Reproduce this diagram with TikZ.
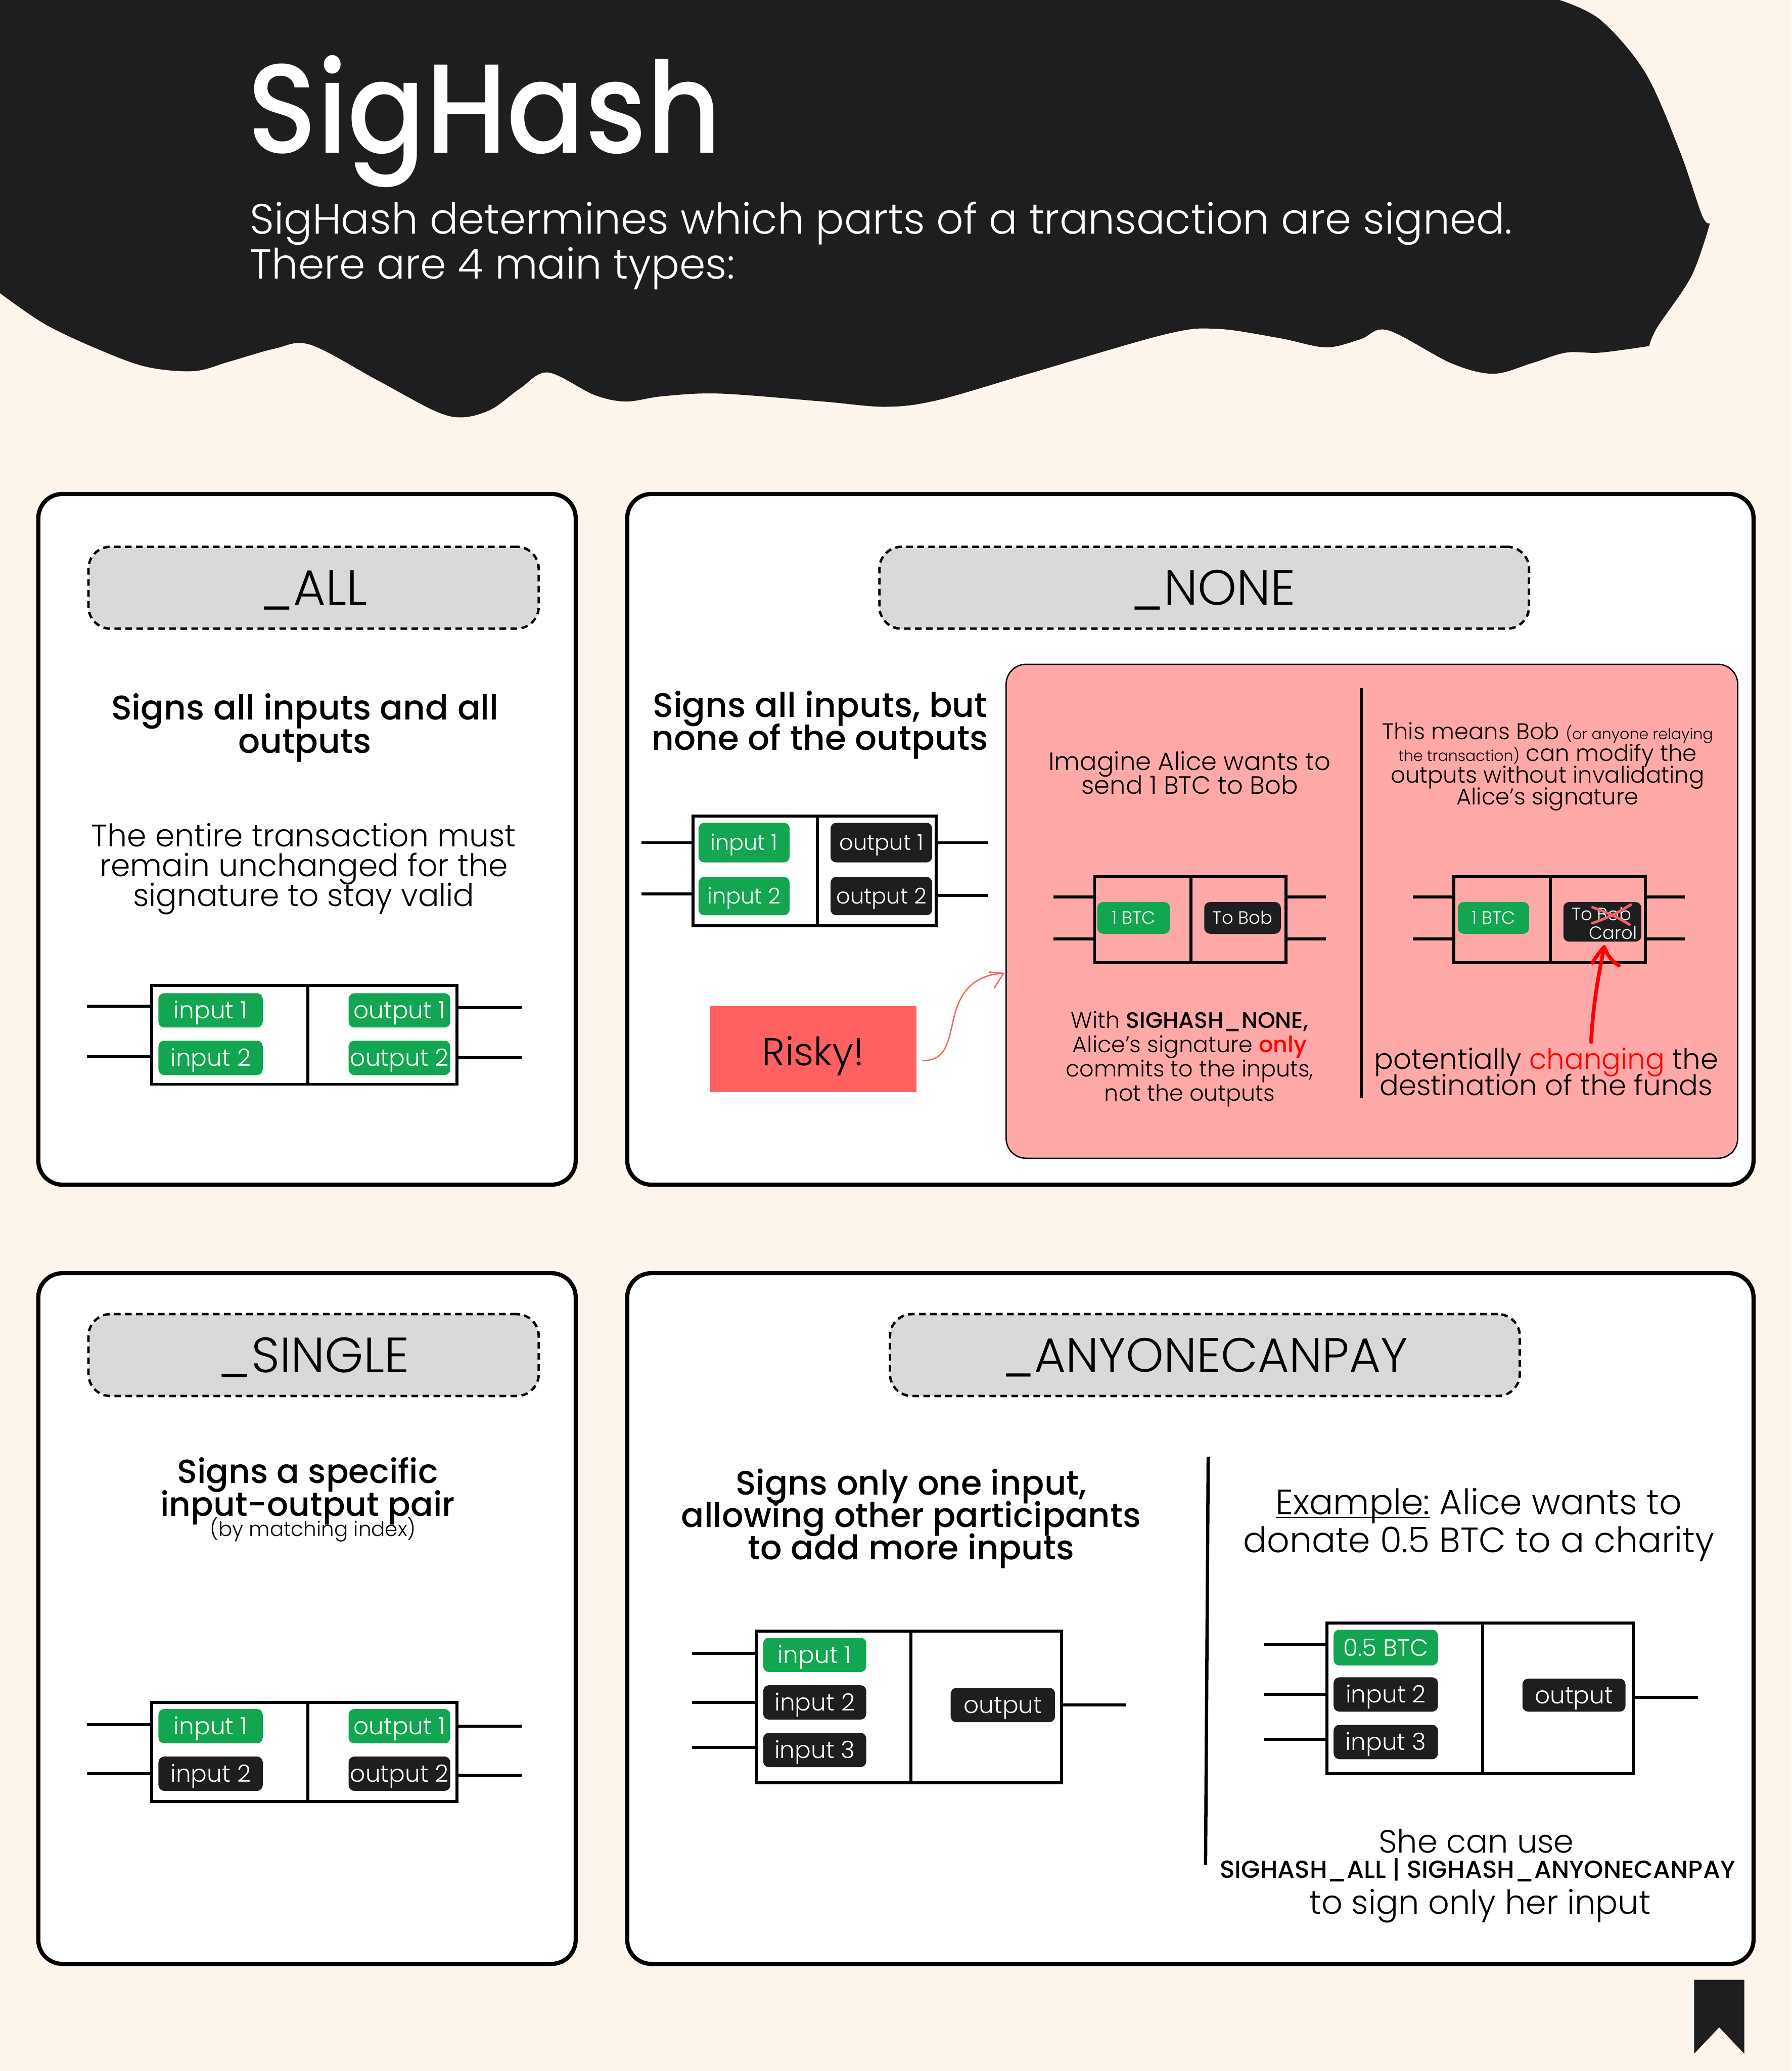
\documentclass[tikz,border=0pt]{standalone}
\usepackage{fontspec}
\setmainfont{Poppins}[UprightFont=* Light,BoldFont=* Medium]
\setlength\lineskiplimit{-100pt}
\newcommand\fsz[2]{\fontsize{\fpeval{#1*0.6}pt}{\fpeval{#2*0.6}pt}\selectfont\lineskiplimit=-100pt\relax}
\definecolor{bgc}{HTML}{FDF5EB}
\definecolor{inkc}{HTML}{1E1E20}
\definecolor{greenc}{HTML}{12A650}
\definecolor{pinkc}{HTML}{FFA8A8}
\definecolor{riskc}{HTML}{FF6060}
\definecolor{pillc}{HTML}{D9D9D9}
\definecolor{crossc}{HTML}{EE6468}
\tikzset{
  x=0.6pt,y=-0.6pt,
  panel/.style={draw=black,fill=white,line width=1.9pt,rounded corners=11pt,inner sep=0pt},
  pill/.style={draw=black,fill=pillc,line width=1.1pt,dash pattern=on 3pt off 2pt,rounded corners=10pt,inner sep=0pt,font=\fsz{37.5}{37.5},text=black},
  txbox/.style={draw=black,line width=1.35pt,inner sep=0pt},
  wire/.style={draw=black,line width=1.35pt},
  chipbase/.style={rounded corners=2.6pt,inner sep=0pt,text=white},
  ichip/.style={chipbase,fill=greenc},
  ochip/.style={chipbase,fill=inkc},
  txt/.style={inner sep=0pt,align=center,text=black},
  chipfont/.style={font=\fsz{18}{18}},
  midchip/.style={font=\fsz{16.5}{16.5}},
  smallchip/.style={font=\fsz{13.5}{13.5}},
}
% #1 name, #2-#5 x1 y1 x2 y2, #6 style, #7 text
\newcommand\bx[7]{\node[#6,minimum width={(#4-#2)*0.6pt},minimum height={(#5-#3)*0.6pt}] (#1) at ({(#2+#4)/2},{(#3+#5)/2}) {\raisebox{-0.35em}[0pt][0pt]{#7}};}
% wires: #1 name, #2 x, #3 y, #4 box anchor node.side
\newcommand\wire[4]{\coordinate (#1) at (#2,#3); \draw[wire] (#1) -- (#1 -| #4);}
\begin{document}
\begin{tikzpicture}
\useasboundingbox (0,0) rectangle (1356.8,1568.1);
\fill[bgc] (0,0) rectangle (1356.8,1568.1);
% header blob
\fill[inkc] (0,222) -- (0,0) -- (1181,0)
  -- plot[smooth,tension=0.55] coordinates {(1181,0) (1212,15) (1246,55) (1272,114) (1289,163) (1295,169)}
  -- plot[smooth,tension=0.55] coordinates {(1295,169) (1281,209) (1255,248) (1249,262)}
  -- plot[smooth,tension=0.55] coordinates {(1249,262) (1212,267) (1186,267) (1160,275) (1131,283) (1099,275) (1051,250) (1030,257) (1004,263) (969,256) (922,249) (883,253) (779,283) (710,303) (671,308) (623,304) (545,298) (502,300) (474,304) (450,299) (415,282) (394,294) (372,310) (350,316) (329,311) (286,288) (235,261) (208,264) (173,274) (147,281) (112,278) (78,266) (35,246) (0,222)}
  -- cycle;
\node[txt,anchor=base west,text=white,font=\fsz{96}{96}\bfseries] (title) at (187,116) {\scalebox{0.91}[1]{SigHash}};
\node[txt,anchor=base west,text=white,align=left,font=\fsz{32.05}{34}] (sub) at (189,177) {SigHash determines which parts of a transaction are signed.};
\node[txt,anchor=base west,text=white,align=left,font=\fsz{31.7}{34}] (sub2) at (189,211) {There are 4 main types:};

% panels
\bx{pA}{29}{374}{436}{897}{panel}{}
\bx{pN}{475}{374}{1328}{897}{panel}{}
\bx{pS}{29}{964}{436}{1487}{panel}{}
\bx{pY}{475}{964}{1328}{1487}{panel}{}
\bx{hA}{67}{414}{408}{476}{pill}{\_ALL}
\bx{hN}{666}{414}{1158}{476}{pill}{\hspace{8pt}\_NONE}
\bx{hS}{67}{995}{408}{1057}{pill}{\_SINGLE}
\bx{hY}{674}{995}{1151}{1057}{pill,font=\fsz{36.4}{36.4}}{\_ANYONECANPAY}

% ALL
\node[txt,font=\fsz{25.9}{25}\bfseries] (tA1) at (231,551) {Signs all inputs and all\\outputs};
\node[txt,font=\fsz{23.6}{22.5}] (tA2) at (230,658) {The entire transaction must\\remain unchanged for the\\signature to stay valid};
\bx{bA}{115}{746}{346}{821}{txbox}{}
\draw[wire] (233,746) -- (233,821);
\wire{wA1}{66}{762}{bA.west}
\wire{wA2}{66}{800}{bA.west}
\wire{wA3}{395}{763}{bA.east}
\wire{wA4}{395}{801}{bA.east}
\bx{cA1}{120}{752}{199}{778}{ichip,chipfont}{input 1}
\bx{cA2}{120}{788}{199}{814}{ichip,chipfont}{input 2}
\bx{cA3}{264}{752}{341}{778}{ichip,chipfont}{output 1}
\bx{cA4}{264}{788}{341}{814}{ichip,chipfont}{output 2}

% NONE
\node[txt,font=\fsz{25.9}{25}\bfseries] (tN1) at (621,549) {Signs all inputs, but\\none of the outputs};
\bx{bN}{525}{618}{709}{701}{txbox}{}
\draw[wire] (619,618) -- (619,701);
\wire{wN1}{486}{638}{bN.west}
\wire{wN2}{486}{677}{bN.west}
\wire{wN3}{748}{638}{bN.east}
\wire{wN4}{748}{678}{bN.east}
\bx{cN1}{529}{623}{598}{653}{ichip,midchip}{input 1}
\bx{cN2}{529}{664}{598}{693}{ichip,midchip}{input 2}
\bx{cN3}{629}{623}{706}{653}{ochip,midchip}{output 1}
\bx{cN4}{629}{664}{706}{693}{ochip,midchip}{output 2}
\bx{risk}{538}{762}{694}{827}{fill=riskc,inner sep=0pt,text=black,font=\fsz{29.5}{29.5}}{\raisebox{-1.2pt}{Risky!}}
\bx{pink}{762}{503}{1316}{877}{draw=black,fill=pinkc,line width=0.6pt,rounded corners=9pt,inner sep=0pt}{}
\coordinate (rA) at (699,803);
\coordinate (rB) at (760,737);
\draw[riskc,line width=0.6pt,line cap=round] (rA) .. controls (716,803) and (718,790) .. (722,772) .. controls (727,750) and (738,738) .. (rB);
\draw[riskc,line width=0.6pt,line cap=round] (749,736) -- (rB) -- (753,748);
\draw[black,line width=1.5pt] (1031,521) -- (1031,831);
\node[txt,font=\fsz{19}{18}] (tP1) at (901,585) {Imagine Alice wants to\\send 1 BTC to Bob};
\node[txt,font=\fsz{17.2}{16.5}] (tP2) at (1172,580.5) {This means Bob {\fsz{11.5}{16.5}(or anyone relaying}\\{\fsz{11.5}{16.5}the transaction)} can modify the\\outputs without invalidating\\Alice's signature};
\node[txt,font=\fsz{17}{18.4}] (tP3) at (901,802) {With \textbf{SIGHASH\_NONE,}\\Alice's signature \textcolor{red}{\textbf{only}}\\commits to the inputs,\\not the outputs};
\node[txt,font=\fsz{21.5}{20}] (tP4) at (1171,811.5) {potentially \textcolor{red}{changing} the\\destination of the funds};
\bx{bP1}{829}{664}{974}{729}{txbox}{}
\draw[wire] (902,664) -- (902,729);
\wire{wP1}{798}{679}{bP1.west}
\wire{wP2}{798}{711}{bP1.west}
\wire{wP3}{1004}{679}{bP1.east}
\wire{wP4}{1004}{711}{bP1.east}
\bx{cP1}{831}{683}{886}{707}{ichip,smallchip}{1 BTC}
\bx{cP2}{912}{683}{970}{707}{ochip,smallchip}{To Bob}
\bx{bP2}{1101}{664}{1246}{729}{txbox}{}
\draw[wire] (1174,664) -- (1174,729);
\wire{wP5}{1070}{679}{bP2.west}
\wire{wP6}{1070}{711}{bP2.west}
\wire{wP7}{1276}{679}{bP2.east}
\wire{wP8}{1276}{711}{bP2.east}
\bx{cP3}{1104}{683}{1158}{707}{ichip,smallchip}{1 BTC}
\bx{cP4}{1184}{683}{1243}{713}{ochip}{}
\node[txt,anchor=base west,text=white,smallchip] (tBob) at (1190,697) {To Bob};
\node[txt,anchor=base east,text=white,smallchip] (tCarol) at (1240,711) {Carol};
\coordinate (x1a) at (1206,687);
\coordinate (x1b) at (1234,700);
\coordinate (x2a) at (1206,699);
\coordinate (x2b) at (1235,685);
\draw[crossc,line width=1.2pt,line cap=round] (x1a) to[bend left=6] (x1b);
\draw[crossc,line width=1.2pt,line cap=round] (x2a) to[bend right=6] (x2b);
\coordinate (arS) at (1205,789);
\coordinate (arT) at (1215,717);
\draw[red,line width=1.7pt,line cap=round] (arS) .. controls (1206,768) and (1209,745) .. (arT);
\draw[red,line width=1.7pt,line cap=round,line join=round] (1206,729) .. controls (1209,724) and (1212,720) .. (arT) .. controls (1217,723) and (1221,728) .. (1226,731);

% SINGLE
\node[txt,font=\fsz{25.3}{25}\bfseries] (tS1) at (233,1129) {Signs a specific\\input-output pair};
\node[txt,font=\fsz{15.5}{15.5}] (tS2) at (237,1158) {(by matching index)};
\bx{bS}{115}{1289}{346}{1364}{txbox}{}
\draw[wire] (233,1289) -- (233,1364);
\wire{wS1}{66}{1306}{bS.west}
\wire{wS2}{66}{1343}{bS.west}
\wire{wS3}{395}{1307}{bS.east}
\wire{wS4}{395}{1344}{bS.east}
\bx{cS1}{120}{1294}{199}{1320}{ichip,chipfont}{input 1}
\bx{cS2}{120}{1330}{199}{1356}{ochip,chipfont}{input 2}
\bx{cS3}{264}{1294}{341}{1320}{ichip,chipfont}{output 1}
\bx{cS4}{264}{1330}{341}{1356}{ochip,chipfont}{output 2}

% ANYONECANPAY
\node[txt,font=\fsz{25.6}{24.5}\bfseries] (tY1) at (690,1150) {Signs only one input,\\allowing other participants\\to add more inputs};
\bx{bY}{573}{1235}{804}{1350}{txbox}{}
\draw[wire] (690,1235) -- (690,1350);
\wire{wY1}{524}{1252}{bY.west}
\wire{wY2}{524}{1289}{bY.west}
\wire{wY3}{524}{1323}{bY.west}
\wire{wY4}{853}{1291}{bY.east}
\bx{cY1}{578}{1240}{656}{1266}{ichip,chipfont}{input 1}
\bx{cY2}{578}{1276}{656}{1302}{ochip,chipfont}{input 2}
\bx{cY3}{578}{1312}{656}{1338}{ochip,chipfont}{input 3}
\bx{cY4}{720}{1278}{799}{1304}{ochip,chipfont}{output}
\draw[black,line width=1.5pt] (915,1103) -- (913,1412);
\node[txt,font=\fsz{26.7}{29}] (tY2) at (1120,1154.5) {\underline{\smash{Example:}} Alice wants to\\donate 0.5 BTC to a charity};
\bx{bZ}{1005}{1229}{1237}{1343}{txbox}{}
\draw[wire] (1123,1229) -- (1123,1343);
\wire{wZ1}{957}{1245}{bZ.west}
\wire{wZ2}{957}{1283}{bZ.west}
\wire{wZ3}{957}{1317}{bZ.west}
\wire{wZ4}{1286}{1285}{bZ.east}
\bx{cZ1}{1010}{1234}{1089}{1261}{ichip,chipfont}{0.5 BTC}
\bx{cZ2}{1010}{1270}{1089}{1296}{ochip,chipfont}{input 2}
\bx{cZ3}{1010}{1306}{1089}{1332}{ochip,chipfont}{input 3}
\bx{cZ4}{1153}{1271}{1231}{1296}{ochip,chipfont}{output}
\node[txt,font=\fsz{24.4}{25}] (tY3) at (1118,1394) {She can use};
\node[txt,font=\fsz{18.7}{18}\bfseries] (tY4) at (1119,1416) {SIGHASH\_ALL | SIGHASH\_ANYONECANPAY};
\node[txt,font=\fsz{25}{25}] (tY5) at (1121,1443) {to sign only her input};
% bookmark
\fill[inkc] (1283,1499) -- (1321,1499) -- (1321,1555) -- (1302,1535) -- (1283,1555) -- cycle;
\end{tikzpicture}
\end{document}
